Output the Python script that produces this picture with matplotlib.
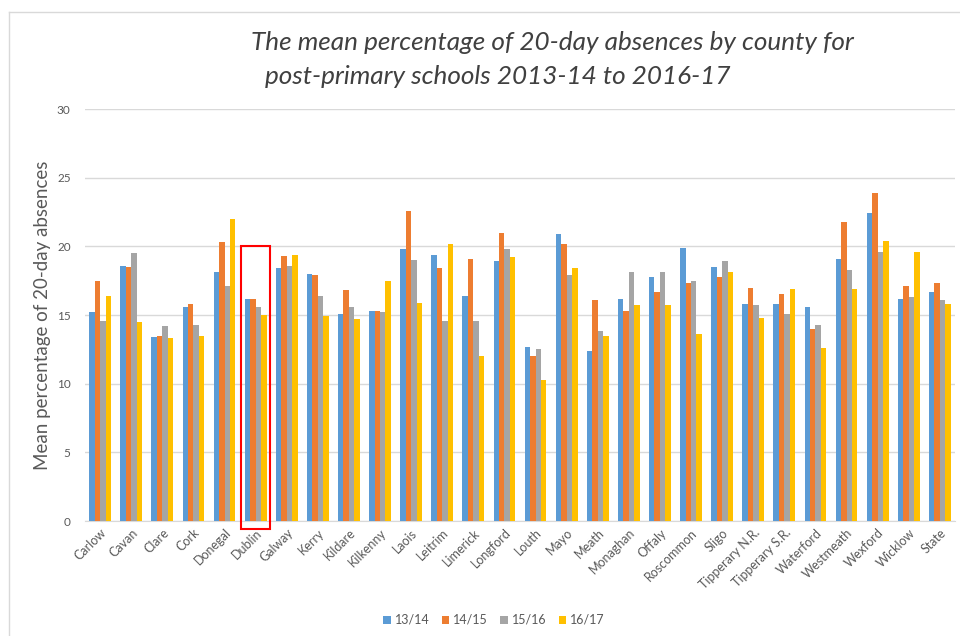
import matplotlib
matplotlib.use("Agg")
import matplotlib.pyplot as plt
from matplotlib.patches import Rectangle
from matplotlib.lines import Line2D
import numpy as np

counties = ["Carlow", "Cavan", "Clare", "Cork", "Donegal", "Dublin", "Galway", "Kerry",
            "Kildare", "Kilkenny", "Laois", "Leitrim", "Limerick", "Longford", "Louth",
            "Mayo", "Meath", "Monaghan", "Offaly", "Roscommon", "Sligo", "Tipperary N.R.",
            "Tipperary S.R.", "Waterford", "Westmeath", "Wexford", "Wicklow", "State"]
y1314 = [15.2, 18.6, 13.4, 15.6, 18.1, 16.2, 18.4, 18.0, 15.1, 15.3, 19.8, 19.4, 16.4, 18.9,
         12.7, 20.9, 12.4, 16.2, 17.8, 19.9, 18.5, 15.8, 15.8, 15.6, 19.1, 22.4, 16.2, 16.7]
y1415 = [17.5, 18.5, 13.5, 15.8, 20.3, 16.2, 19.3, 17.9, 16.8, 15.3, 22.6, 18.4, 19.1, 21.0,
         12.0, 20.2, 16.1, 15.3, 16.7, 17.35, 17.8, 17.0, 16.5, 14.0, 21.8, 23.9, 17.1, 17.3]
y1516 = [14.6, 19.5, 14.2, 14.3, 17.1, 15.6, 18.6, 16.4, 15.6, 15.2, 19.0, 14.6, 14.6, 19.8,
         12.5, 17.9, 13.8, 18.1, 18.1, 17.5, 18.9, 15.7, 15.1, 14.3, 18.3, 19.6, 16.3, 16.1]
y1617 = [16.4, 14.5, 13.35, 13.5, 22.0, 15.0, 19.4, 14.9, 14.7, 17.5, 15.9, 20.2, 12.0, 19.2,
         10.3, 18.4, 13.5, 15.7, 15.75, 13.6, 18.1, 14.8, 16.9, 12.6, 16.9, 20.4, 19.6, 15.8]
series = [("13/14", y1314), ("14/15", y1415), ("15/16", y1516), ("16/17", y1617)]
colors = ["#5B9BD5", "#ED7D31", "#A5A5A5", "#FFC000"]

FONT = "Lato"
GRID, TXT = "#d9d9d9", "#595959"

fig = plt.figure(figsize=(9.6, 6.36), dpi=100)
ax = fig.add_axes([0.0881, 0.1808, 0.9071, 0.6478])

x = np.arange(len(counties))
w = 0.175
for i, ((name, vals), c) in enumerate(zip(series, colors)):
    ax.bar(x + (i - 1.5) * w, vals, width=w, color=c, label=name, zorder=3)

ax.set_xlim(-0.5, len(counties) - 0.5)
ax.set_ylim(0, 30)
ax.set_yticks(range(0, 31, 5))
ax.yaxis.grid(True, color=GRID, linewidth=1, zorder=0)
ax.set_axisbelow(True)
for s in ("top", "right", "left"):
    ax.spines[s].set_visible(False)
ax.spines["bottom"].set_color(GRID)
ax.tick_params(length=0, colors=TXT)
ax.set_xticks(x)
ax.set_xticklabels(counties, rotation=45, ha="right", rotation_mode="anchor",
                   fontsize=9, family=FONT, color=TXT)
for lab in ax.get_yticklabels():
    lab.set_family(FONT); lab.set_fontsize(8.5)
ax.tick_params(axis="y", pad=10)
ax.tick_params(axis="x", pad=4)
ax.set_ylabel("Mean percentage of 20-day absences", fontsize=13.5, family=FONT,
              color=TXT, labelpad=4)

# red box around Dublin
d = counties.index("Dublin")
ax.add_patch(Rectangle((d - 0.47, -0.55), 0.92, 20.55, fill=False, edgecolor="#ff0000",
                       linewidth=1.5, clip_on=False, zorder=5))

fig.text(251 / 960, 1 - 42 / 636, "The mean percentage of 20-day absences by county for",
         fontsize=18.8, style="italic", family=FONT, color="#404040", va="center", ha="left")
fig.text(265 / 960, 1 - 76 / 636, "post-primary schools 2013-14 to 2016-17",
         fontsize=18.8, style="italic", family=FONT, color="#404040", va="center", ha="left")

fig.legend(loc="center", bbox_to_anchor=(494 / 960, 1 - 620 / 636), ncol=4, frameon=False,
           handlelength=0.6, handleheight=0.6, handletextpad=0.3, columnspacing=1.0,
           prop={"family": FONT, "size": 9}, labelcolor=TXT)

# outer chart frame (top and left edges visible)
fig.add_artist(Line2D([9 / 960, 1], [1 - 12 / 636] * 2, color=GRID, linewidth=1))
fig.add_artist(Line2D([9 / 960] * 2, [0, 1 - 12 / 636], color=GRID, linewidth=1))

fig.savefig("out.png", dpi=100)
